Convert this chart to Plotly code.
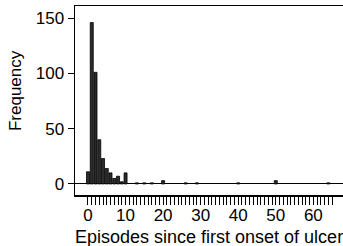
import plotly.graph_objects as go

# Data
episodes = [0, 1, 2, 3, 4, 5, 6, 7, 8, 9, 10, 13, 15, 17, 20, 26, 29, 40, 50, 64]
frequency = [11, 146, 101, 40, 23, 14, 10, 5, 7, 2, 10, 1, 1, 1, 3, 1, 1, 1, 3, 1]

x_tick_vals = list(range(0, 66))
x_tick_text = [str(v) if v % 10 == 0 else "" for v in x_tick_vals]
y_tick_vals = [0, 50, 100, 150]

x_title = "Episodes since first onset of ulcer"
y_title = "Frequency"

FONT = "Liberation Sans, Arial, Helvetica, sans-serif"

fig = go.Figure(
    go.Bar(
        x=episodes,
        y=frequency,
        width=0.8,
        marker=dict(color="#2b2b2b", line=dict(color="black", width=0.8)),
    )
)

fig.update_layout(
    width=343,
    height=246,
    margin=dict(l=75, r=0, t=6, b=51, autoexpand=False),
    paper_bgcolor="white",
    plot_bgcolor="white",
    showlegend=False,
    font=dict(family=FONT, size=17, color="black"),
    bargap=0,
    annotations=[
        dict(text=x_title, xref="paper", yref="paper", x=0.5, y=-0.22,
             xanchor="center", yanchor="middle", showarrow=False,
             font=dict(size=18)),
        dict(text=y_title, xref="paper", yref="paper", x=-0.224, y=0.555,
             xanchor="center", yanchor="middle", showarrow=False, textangle=-90,
             font=dict(size=17)),
    ],
)

fig.update_xaxes(
    range=[-3.46, 67.9],
    tickvals=x_tick_vals,
    ticktext=x_tick_text,
    ticks="outside",
    ticklen=8,
    tickwidth=1,
    tickcolor="black",
    showline=True,
    linecolor="black",
    linewidth=1.5,
    mirror=True,
    showgrid=False,
    zeroline=False,
    tickangle=0,
    automargin=False,
    ticklabelstandoff=-4,
    tickfont=dict(size=17),
)

fig.update_yaxes(
    range=[-10, 161],
    tickvals=y_tick_vals,
    ticks="outside",
    ticklen=6,
    tickwidth=1,
    tickcolor="black",
    showline=True,
    linecolor="black",
    linewidth=1.5,
    mirror=False,
    showgrid=False,
    zeroline=True,
    zerolinecolor="black",
    zerolinewidth=1,
    automargin=False,
    tickfont=dict(size=17),
)

fig.write_html(
    "out.html",
    config={"displayModeBar": False, "staticPlot": True},
    post_script="document.body.style.margin='0';document.body.style.overflow='hidden';",
)
